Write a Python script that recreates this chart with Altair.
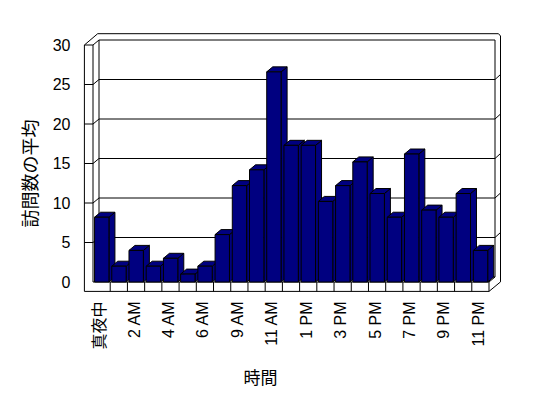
import json
import altair as alt
import pandas as pd

# ---- data ----
hours = ['真夜中', '1 AM', '2 AM', '3 AM', '4 AM', '5 AM', '6 AM', '8 AM', '9 AM',
         '10 AM', '11 AM', '12 PM', '1 PM', '2 PM', '3 PM', '4 PM', '5 PM', '6 PM',
         '7 PM', '8 PM', '9 PM', '10 PM', '11 PM']
visits = [8.2, 2.0, 4.0, 2.0, 3.0, 1.0, 2.0, 6.0, 12.2, 14.2, 26.6, 17.3,
          17.3, 10.2, 12.2, 15.2, 11.2, 8.2, 16.2, 9.1, 8.2, 11.2, 4.0]
y_ticks = [0, 5, 10, 15, 20, 25, 30]
x_title = '時間'
y_title = '訪問数の平均'

# ---- layout / style ----
W, H = 396, 237
N = len(hours)
YMAX = y_ticks[-1]
PX = W / N
PY = H / YMAX
NAVY = '#000080'
FONT = 'Liberation Sans, Noto Sans CJK JP'


def ux(p):
    return p / PX


def uy(p):
    return p / PY


DX, DY = ux(6), uy(5)          # depth of the 3D effect
A, B = 0.09, 0.925             # bar front face within its slot
LO = -ux(8.6)                  # outer edge of the left wall
FB = -uy(9.4)                  # bottom edge of the floor slab
R = N + ux(11.5)               # outer edge of right wall

xs = alt.Scale(domain=[0, N], nice=False, zero=False)
ys = alt.Scale(domain=[0, YMAX], nice=False, zero=False)

label_expr = json.dumps(hours, ensure_ascii=False) + '[floor(datum.value)]'
xaxis = alt.Axis(values=[i + 0.5 for i in range(0, N, 2)], labelExpr=label_expr,
                 labelAngle=270, labelAlign='right', labelBaseline='middle',
                 labelPadding=19, labelOffset=-2, labelFontSize=16, labelFont=FONT,
                 labelColor='black',
                 labelOverlap=False, labelFlush=False, ticks=False, domain=False, grid=False,
                 title=x_title, titleFont=FONT, titleFontSize=17, titleFontWeight='normal',
                 titleColor='black', titleX=167, titleY=96, titleAlign='center',
                 titleBaseline='middle')
yaxis = alt.Axis(values=y_ticks, labelPadding=23, labelFontSize=16, labelFont=FONT,
                 labelColor='black', labelBaseline='middle', labelFlush=False,
                 ticks=False, domain=False, grid=False,
                 title=y_title, titleFont=FONT, titleFontSize=18, titleFontWeight='normal',
                 titleColor='black', titleAngle=270, titleX=-62, titleY=128,
                 titleAlign='center', titleBaseline='middle')


def X(f='x'):
    return alt.X(f + ':Q', scale=xs, axis=xaxis, stack=False)


def Y(f='y'):
    return alt.Y(f + ':Q', scale=ys, axis=yaxis, stack=False)


# ---- frame segments (walls, floor, gridlines) ----
seg = []


def s(x, y, x2, y2):
    seg.append({'x': x, 'y': y, 'x2': x2, 'y2': y2})


top_far = YMAX + uy(11.3)
s(LO, FB, LO, YMAX)                       # left wall outer edge
s(0, 0, 0, YMAX)                          # left wall inner edge
s(LO, YMAX, 0, YMAX)                      # left wall top
s(LO, YMAX, ux(4.7), top_far)             # left wall top diagonal
s(0, YMAX, DX, YMAX + DY)
s(ux(4.7), top_far, N + ux(9.5), top_far)  # far top edge
s(N + ux(9.5), top_far, R, YMAX + uy(9))
s(R, YMAX + uy(9), R, FB + uy(9.5))       # right outer edge
s(DX, DY, DX, YMAX + DY)                  # back wall left
s(N + DX, DY, N + DX, YMAX + DY)          # back wall right
for v in y_ticks:
    s(DX, v + DY, N + DX, v + DY)         # gridlines on back wall
for v in y_ticks[1:-1]:
    s(LO, v, 0, v)                        # ticks across left wall
    s(0, v, DX, v + DY)
    s(N + DX, v + DY, R, v + DY + uy(5))  # gridline round the right wall
s(0, 0, N, 0)                             # floor front top
s(LO, FB, N, FB)                          # floor front bottom
for k in range(1, N + 1):
    s(k, 0, k, FB)                        # category separators on the floor
s(N, 0, N + DX, DY)
s(N, FB, R, FB + uy(9.5))
frame_df = pd.DataFrame(seg)

# ---- bar faces ----
front_rows, top_rows, side_rows = [], [], []
for i, v in enumerate(visits):
    front_rows.append({'bar': hours[i], 'x': i + A, 'x2': i + B, 'y': 0.0, 'y2': v})
    top_rows.append({'bar': hours[i], 'y': v, 'x': i + A, 'x2': i + B})
    top_rows.append({'bar': hours[i], 'y': v + DY, 'x': i + A + DX, 'x2': i + B + DX})
    side_rows.append({'bar': hours[i], 'x': i + B, 'y': 0.0, 'y2': v})
    side_rows.append({'bar': hours[i], 'x': i + B + DX, 'y': DY, 'y2': v + DY})
front_df = pd.DataFrame(front_rows)
top_df = pd.DataFrame(top_rows)
side_df = pd.DataFrame(side_rows)

frame = alt.Chart(frame_df).mark_rule(color='black', strokeWidth=1).encode(
    x=X(), y=Y(), x2='x2:Q', y2='y2:Q')

side = alt.Chart(side_df).mark_area(orient='vertical', fill=NAVY, stroke='black',
                                    strokeWidth=1, opacity=1).encode(
    x=X(), y=Y(), y2='y2:Q', detail='bar:N')

top = alt.Chart(top_df).mark_area(orient='horizontal', fill=NAVY, stroke='black',
                                  strokeWidth=1, opacity=1).encode(
    y=Y(), x=X(), x2='x2:Q', detail='bar:N')

front = alt.Chart(front_df).mark_rect(fill=NAVY, stroke='black', strokeWidth=1).encode(
    x=X(), x2='x2:Q', y=Y(), y2='y2:Q')

chart = alt.layer(frame, side, top, front).properties(
    width=W, height=H,
    autosize=alt.AutoSizeParams(type='none'),
    padding={'left': 93, 'top': 45, 'right': 548 - 93 - W, 'bottom': 398 - 45 - H},
    background='white',
).configure_view(stroke=None)

chart.save('out.html', embed_options={'renderer': 'svg', 'actions': False})
